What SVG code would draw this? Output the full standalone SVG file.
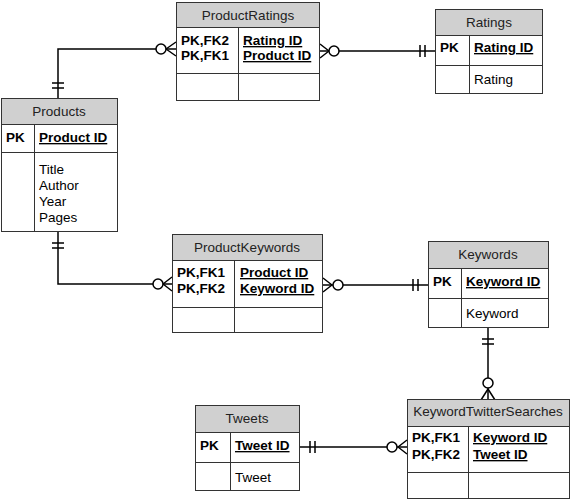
<svg xmlns="http://www.w3.org/2000/svg" width="571" height="500" viewBox="0 0 571 500">
<style>
.box{fill:#fff;stroke:#333;stroke-width:1}
.hdr{fill:#d0d0d0;stroke:#333;stroke-width:1}
.ln{stroke:#333;stroke-width:1;fill:none}
text{font-family:"Liberation Sans",Arial,sans-serif;font-size:13.5px;fill:#000}
.h{text-anchor:middle;fill:#222}
.b{font-weight:bold}
.u{font-weight:bold;text-decoration:underline}
.c{stroke:#000;stroke-width:1.5;fill:none}
.o{stroke:#000;stroke-width:1.5;fill:#fff}
</style>
<rect width="571" height="500" fill="#fff"/>
<g id="connectors">
  <!-- Products - ProductRatings -->
  <path class="c" d="M58,98 V49 H176"/>
  <path class="c" d="M52,83 H64 M52,88 H64"/>
  <path class="c" d="M166,49 L176,42 M166,49 L176,56"/>
  <circle class="o" cx="161" cy="49" r="5"/>
  <!-- ProductRatings - Ratings -->
  <path class="c" d="M320,51 H435"/>
  <path class="c" d="M420,45 V57 M425,45 V57"/>
  <path class="c" d="M329,51 L320,44 M329,51 L320,58"/>
  <circle class="o" cx="334" cy="51" r="5"/>
  <!-- Products - ProductKeywords -->
  <path class="c" d="M58,231 V284 H172"/>
  <path class="c" d="M52,243 H64 M52,248 H64"/>
  <path class="c" d="M163,284 L172,277 M163,284 L172,291"/>
  <circle class="o" cx="158" cy="284" r="5"/>
  <!-- ProductKeywords - Keywords -->
  <path class="c" d="M323,285 H428"/>
  <path class="c" d="M413,279 V291 M418,279 V291"/>
  <path class="c" d="M332,285 L323,278 M332,285 L323,292"/>
  <circle class="o" cx="338" cy="285" r="5"/>
  <!-- Keywords - KeywordTwitterSearches -->
  <path class="c" d="M488,327 V400"/>
  <path class="c" d="M482,339 H494 M482,344 H494"/>
  <path class="c" d="M488,389 L481,400 M488,389 L495,400"/>
  <circle class="o" cx="488" cy="383" r="5"/>
  <!-- Tweets - KeywordTwitterSearches -->
  <path class="c" d="M299,447 H407"/>
  <path class="c" d="M310,441 V453 M315,441 V453"/>
  <path class="c" d="M398,447 L407,440 M398,447 L407,454"/>
  <circle class="o" cx="392" cy="447" r="5"/>
</g>
<g id="ProductRatings">
  <rect class="box" x="176.5" y="2.5" width="143" height="98"/>
  <rect class="hdr" x="176.5" y="2.5" width="143" height="25"/>
  <path class="ln" d="M176.5,73.5 H319.5 M238.5,27.5 V100.5"/>
  <text class="h" x="248" y="20">ProductRatings</text>
  <text class="b" x="181" y="45">PK,FK2</text>
  <text class="b" x="181" y="60">PK,FK1</text>
  <text class="u" x="243" y="45">Rating ID</text>
  <text class="u" x="243" y="60">Product ID</text>
</g>
<g id="Ratings">
  <rect class="box" x="435.5" y="9.5" width="107" height="84"/>
  <rect class="hdr" x="435.5" y="9.5" width="107" height="26"/>
  <path class="ln" d="M435.5,65.5 H542.5 M469.5,35.5 V93.5"/>
  <text class="h" x="489" y="27">Ratings</text>
  <text class="b" x="440" y="52">PK</text>
  <text class="u" x="474" y="52">Rating ID</text>
  <text x="474" y="84">Rating</text>
</g>
<g id="Products">
  <rect class="box" x="1.5" y="98.5" width="116" height="133"/>
  <rect class="hdr" x="1.5" y="98.5" width="116" height="26"/>
  <path class="ln" d="M1.5,152.5 H117.5 M34.5,124.5 V231.5"/>
  <text class="h" x="59" y="116">Products</text>
  <text class="b" x="6" y="142">PK</text>
  <text class="u" x="39" y="142">Product ID</text>
  <text x="39" y="174">Title</text>
  <text x="39" y="190">Author</text>
  <text x="39" y="206">Year</text>
  <text x="39" y="222">Pages</text>
</g>
<g id="ProductKeywords">
  <rect class="box" x="172.5" y="234.5" width="150" height="98"/>
  <rect class="hdr" x="172.5" y="234.5" width="150" height="26"/>
  <path class="ln" d="M172.5,307.5 H322.5 M234.5,260.5 V332.5"/>
  <text class="h" x="247" y="252">ProductKeywords</text>
  <text class="b" x="177" y="277">PK,FK1</text>
  <text class="b" x="177" y="293">PK,FK2</text>
  <text class="u" x="240" y="277">Product ID</text>
  <text class="u" x="240" y="293">Keyword ID</text>
</g>
<g id="Keywords">
  <rect class="box" x="428.5" y="241.5" width="120" height="86"/>
  <rect class="hdr" x="428.5" y="241.5" width="120" height="27"/>
  <path class="ln" d="M428.5,298.5 H548.5 M461.5,268.5 V327.5"/>
  <text class="h" x="488" y="259">Keywords</text>
  <text class="b" x="433" y="286">PK</text>
  <text class="u" x="466" y="286">Keyword ID</text>
  <text x="466" y="318">Keyword</text>
</g>
<g id="Tweets">
  <rect class="box" x="195.5" y="405.5" width="104" height="85"/>
  <rect class="hdr" x="195.5" y="405.5" width="104" height="27"/>
  <path class="ln" d="M195.5,462.5 H299.5 M230.5,432.5 V490.5"/>
  <text class="h" x="247" y="423">Tweets</text>
  <text class="b" x="200" y="450">PK</text>
  <text class="u" x="235" y="450">Tweet ID</text>
  <text x="235" y="482">Tweet</text>
</g>
<g id="KeywordTwitterSearches">
  <rect class="box" x="407.5" y="399.5" width="162" height="99"/>
  <rect class="hdr" x="407.5" y="399.5" width="162" height="27"/>
  <path class="ln" d="M407.5,472.5 H569.5 M468.5,426.5 V498.5"/>
  <text class="h" x="488" y="416">KeywordTwitterSearches</text>
  <text class="b" x="412" y="442">PK,FK1</text>
  <text class="b" x="412" y="459">PK,FK2</text>
  <text class="u" x="473" y="442">Keyword ID</text>
  <text class="u" x="473" y="459">Tweet ID</text>
</g>
</svg>
